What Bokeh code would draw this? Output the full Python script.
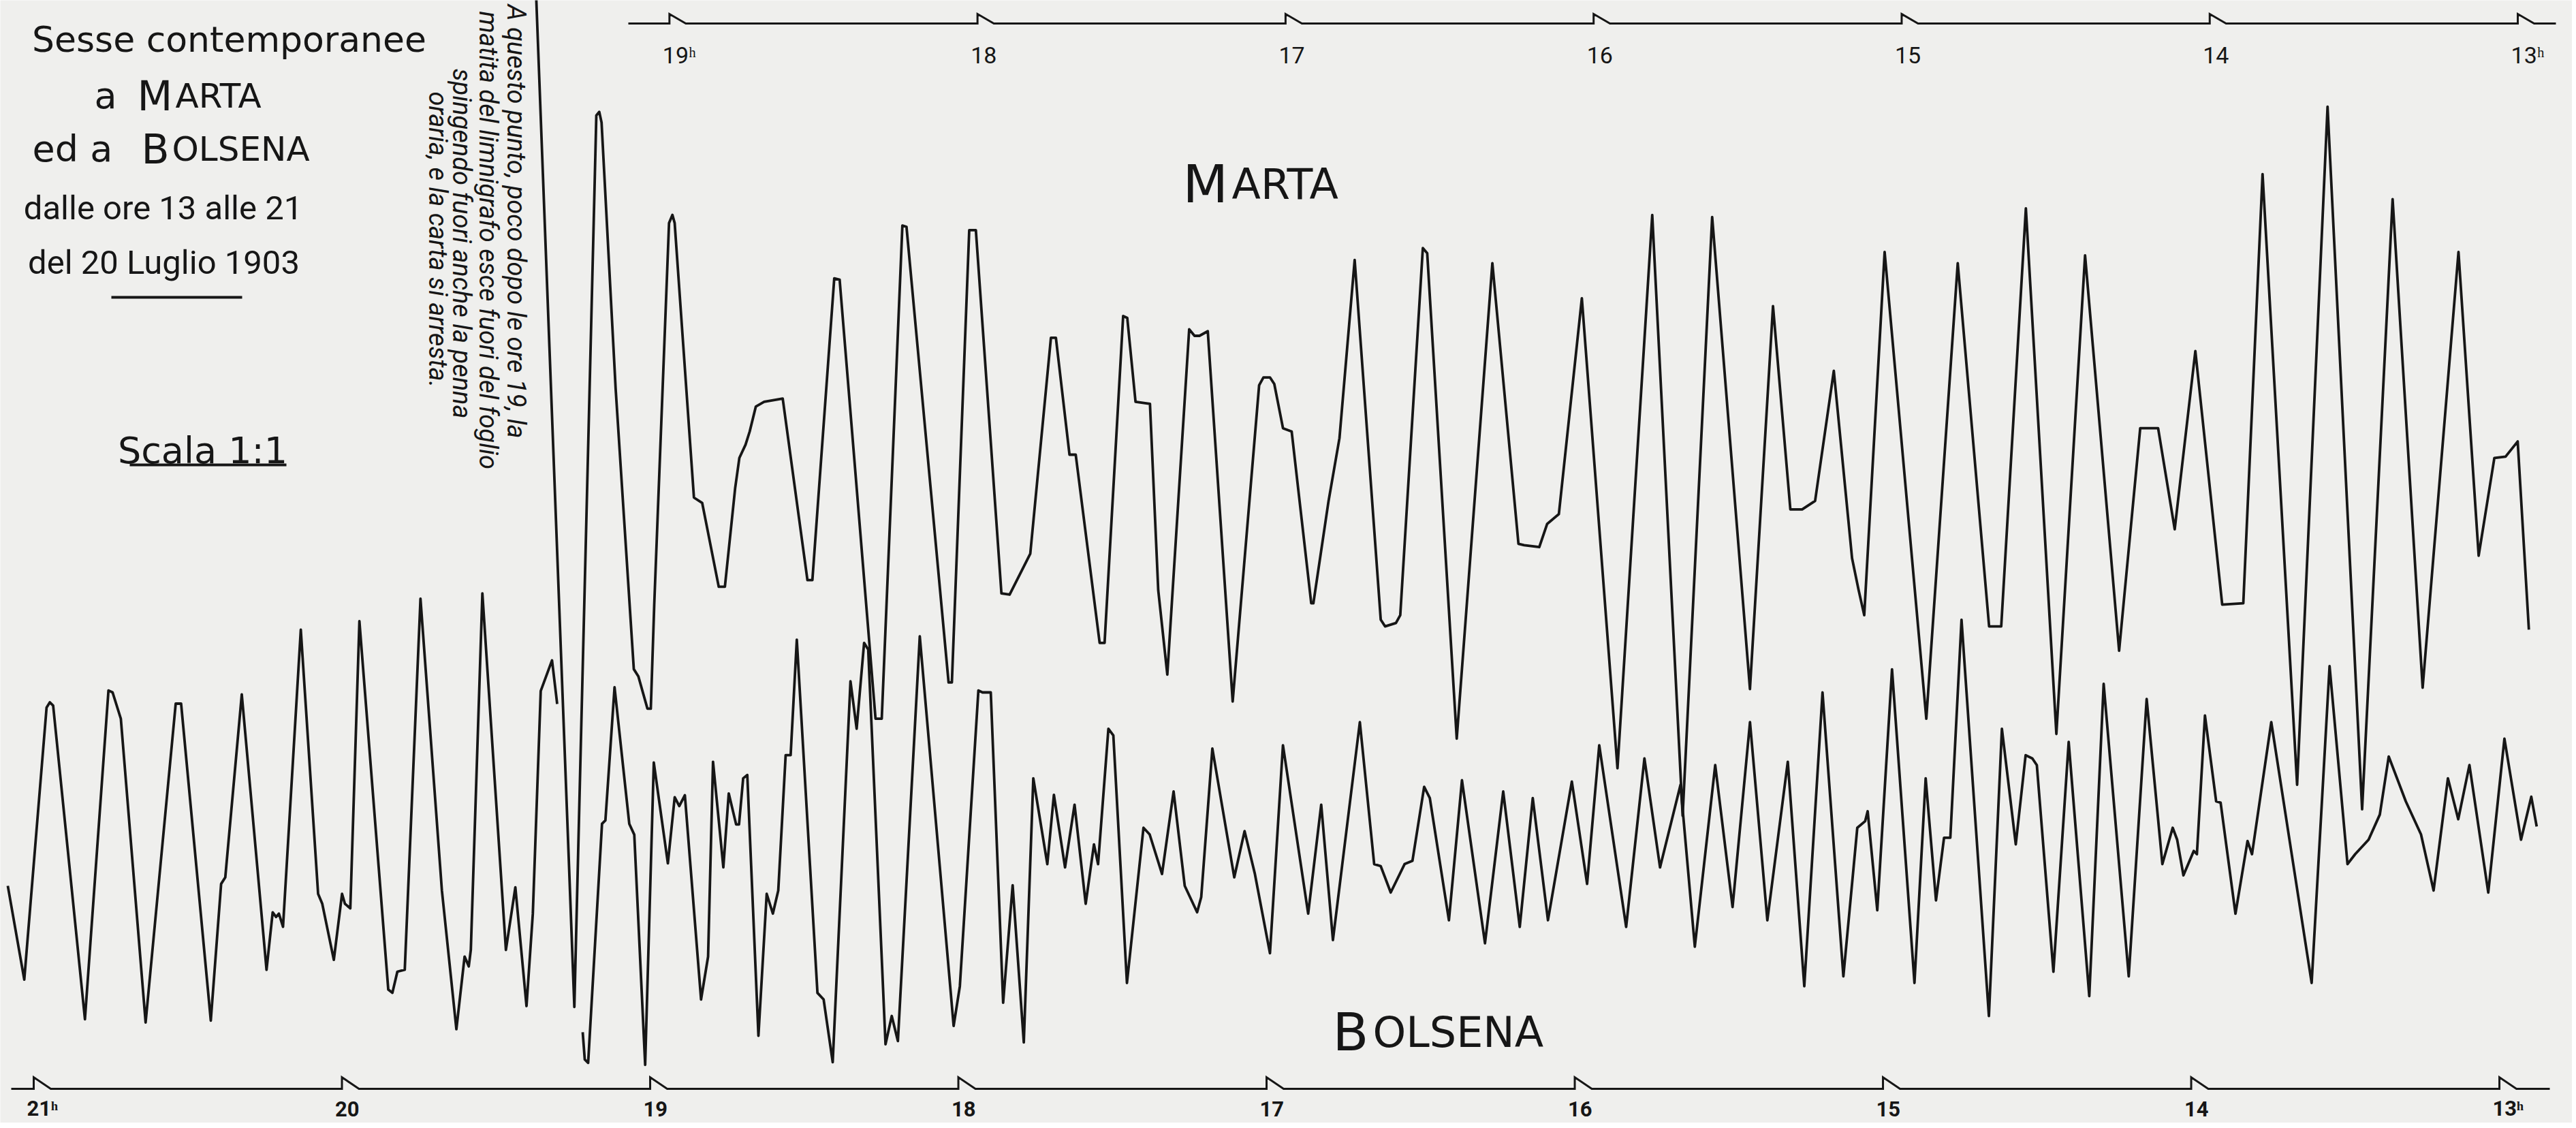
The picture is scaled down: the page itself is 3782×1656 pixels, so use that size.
import math
from bokeh.plotting import figure
from bokeh.models import Range1d
from bokeh.embed import file_html
from bokeh.resources import INLINE
from bokeh.core.properties import value

NAN = float("nan")

# ---------------------------------------------------------------------------
# DATA  (time = minutes after 13h on 20 July 1903, level = mm, scale 1:1)
# values read left to right on the sheet, i.e. from the latest to the earliest
# ---------------------------------------------------------------------------
marta_min = [
    385.95, 378.52, 374.24, 373.67, 373.22, 370.48, 366.94, 366.05, 364.29, 363.63,
    362.96, 360.08, 359.42, 358.98, 355.23, 353.62, 350.4, 349.2, 347.19, 346.38,
    345.18, 344.37, 343.17, 341.56, 337.94, 333.12, 332.16, 327.9, 326.85, 319.86,
    318.65, 314.63, 313.83, 305.63, 304.99, 301.61, 300.32, 295.34, 293.74, 289.72,
    285.7, 284.73, 282.08, 280.87, 276.21, 275.25, 271.63, 270.83, 269.22, 266.41,
    264.8, 263.03, 258.77, 257.73, 256.76, 255.15, 250.3, 245.15, 244.31, 243.04,
    242.19, 240.5, 238.81, 235.0, 234.58, 231.62, 229.5, 226.54, 221.46, 220.62,
    218.5, 217.66, 213.26, 212.41, 206.66, 199.72, 194.64, 193.54, 190.58, 189.06,
    186.77, 182.29, 175.35, 168.58, 162.66, 156.91, 149.55, 145.06, 141.68, 139.39,
    136.86, 133.22, 129.66, 128.39, 127.29, 123.32, 115.2, 109.08, 102.97, 100.61,
    95.81, 89.87, 84.28, 77.65, 73.54, 70.05, 66.82, 62.8, 57.57, 53.46,
    49.71, 42.98, 37.05, 30.32, 24.38, 18.53, 11.55, 7.62, 4.56, 2.38,
    0.02, -2.16,
]
marta_level = [
    63.0, -90.69, 44.98, 45.53, 43.9, 3.42, -39.28, -40.38, -45.29, -45.29,
    -29.44, 28.6, 29.85, 28.6, -13.17, -13.98, -26.74, -26.74, -11.66, -7.14,
    -5.13, -3.12, 0.69, 1.4, 1.9, -25.73, -25.73, 20.19, 19.99, -46.83,
    -46.83, 28.23, 28.03, -41.31, -41.31, 27.52, 27.52, -27.74, -27.94, -21.71,
    11.14, 11.14, -6.64, -6.64, -35.28, -35.28, 14.46, 14.16, 1.4, 1.1,
    -27.24, -40.1, 12.45, 11.45, 11.45, 12.15, -44.2, 3.91, 5.12, 5.12,
    4.11, -2.62, -3.12, -29.25, -29.25, -13.67, -4.13, 23.0, -31.76, -32.77,
    -32.26, -31.06, 24.81, 24.01, -49.85, 22.5, -20.2, -20.41, -20.71, -17.19,
    -15.68, 17.17, -54.37, 29.83, -61.6, 29.53, -42.31, 15.97, -14.98, -14.98,
    -13.67, 6.12, -22.42, -27.24, -31.06, 24.21, -46.83, 22.5, -32.77, -32.77,
    30.84, -49.14, 23.7, -36.48, -2.62, -2.62, -17.99, 9.13, -29.45, -29.25,
    36.06, -56.88, 46.31, -60.6, 32.24, -42.11, 24.21, -22.01, -7.14, -6.94,
    -4.63, -33.27,
]

# the Bolsena record is interrupted shortly after 19h (NaN = gap in the trace)
bolsena_min = [
    485.05, 481.84, 477.5, 476.86, 476.22, 470.03, 465.45, 464.65, 463.04, 458.22,
    452.36, 451.31, 445.53, 443.52, 442.71, 439.5, 434.68, 433.48, 432.83, 432.27,
    431.47, 428.01, 424.64, 423.83, 421.58, 419.98, 419.42, 418.37, 416.6, 410.98,
    410.18, 409.21, 407.77, 404.71, 400.54, 397.72, 396.12, 395.31, 394.91, 392.66,
    388.08, 386.24, 384.07, 382.84, 381.3, 379.1, 378.1, NAN,
    373.13, 372.73, 372.07, 369.37, 368.71, 366.93, 364.06, 363.09, 360.97, 359.29,
    356.55, 355.22, 354.33, 353.24, 350.09, 348.72, 347.76, 345.75, 344.7, 343.26,
    342.7, 341.89, 341.09, 338.92, 337.31, 336.11, 335.06, 333.62, 332.65, 331.45,
    327.43, 326.23, 324.46, 321.0, 319.8, 318.35, 317.55, 314.18, 312.97, 311.77,
    307.51, 300.92, 299.71, 296.1, 295.3, 293.69, 291.28, 289.43, 287.26, 285.41,
    282.68, 281.4, 279.23, 277.38, 275.21, 273.6, 272.8, 270.79, 269.83, 267.18,
    263.96, 262.76, 260.35, 258.1, 255.93, 253.52, 252.72, 250.55, 246.29, 244.28,
    242.27, 239.34, 236.81, 231.9, 229.36, 227.08, 221.84, 219.05, 217.78, 215.83,
    213.13, 211.6, 209.32, 208.22, 204.5, 201.96, 197.48, 193.93, 190.71, 188.18,
    185.22, 180.57, 177.6, 175.24, 170.0, 166.44, 163.4, 159.42, 156.63, 152.66,
    149.28, 145.89, 142.51, 138.53, 135.32, 131.77, 127.71, 125.0, 123.48, 122.98,
    121.11, 118.24, 113.87, 111.69, 109.68, 108.11, 106.89, 104.71, 99.38, 96.85,
    94.15, 92.23, 90.92, 90.05, 86.82, 83.85, 79.84, 77.04, 72.16, 68.67,
    65.61, 63.6, 62.73, 61.51, 59.5, 58.89, 57.32, 55.14, 54.27, 51.38,
    49.03, 48.16, 44.41, 36.55, 33.06, 29.57, 28.08, 25.47, 23.28, 21.54,
    18.22, 15.26, 12.81, 10.02, 8.01, 5.83, 2.17, -0.98, -4.21, -6.21,
    -7.26,
]
bolsena_level = [
    -4.76, -19.03, 22.37, 23.17, 22.67, -25.06, 24.98, 24.68, 20.66, -25.56,
    22.97, 22.97, -25.26, -4.46, -3.46, 24.38, -17.53, -8.78, -9.49, -8.98,
    -10.99, 34.22, -5.97, -7.48, -16.02, -5.97, -7.48, -8.18, 35.53, -20.54,
    -21.04, -17.82, -17.52, 38.94, -5.47, -26.57, -15.52, -17.02, -14.51, 39.75,
    -14.51, -4.97, -23.05, -9.0, 24.9, 29.56, 22.93, NAN,
    -27.03, -31.17, -31.69, 4.68, 5.2, 25.47, 4.68, 3.03, -32.0, 14.01,
    -1.33, 8.73, 7.38, 9.04, -22.05, -15.52, 14.13, -1.95, 9.31, 4.58,
    4.58, 11.61, 12.12, -27.57, -5.97, -8.98, -5.47, 15.13, 15.13, 32.71,
    -21.04, -22.05, -31.59, 26.38, 19.15, 32.21, 31.21, -28.88, -24.56, -28.38,
    33.22, -26.07, -20.04, 24.98, 24.68, 24.68, -22.55, -4.66, -28.58, 11.61,
    -1.45, 9.1, -1.95, 7.6, -7.48, 1.56, -1.45, 19.15, 18.15, -19.54,
    4.08, 3.07, -2.95, 9.61, -4.76, -8.78, -6.47, 16.13, -3.46, 3.57,
    -2.95, -15.01, 16.64, -8.98, 7.6, -13.0, 20.16, -1.45, -1.75, -5.77,
    -1.45, -0.95, 10.31, 8.6, -9.99, 11.31, -13.5, 9.6, -11.0, 8.6,
    -9.99, 11.11, -4.46, 16.64, -11.0, 14.63, -1.95, 10.61, -14.01, 13.62,
    -7.98, 20.16, -9.99, 14.13, -20.04, 24.68, -18.53, 4.08, 5.08, 6.59,
    -8.48, 28.19, -19.53, 11.61, -6.97, 2.57, 2.57, 35.73, -24.56, 19.15,
    1.56, 15.13, 14.63, 13.62, -17.83, 17.14, -21.54, 25.98, -18.53, 23.67,
    -1.45, 4.08, 2.27, -3.16, 0.56, 0.06, 21.16, 8.1, 7.9, -9.0,
    2.07, 0.06, 20.16, -19.53, 28.69, -1.45, 0.06, 2.27, 6.09, 14.93,
    8.1, 3.07, -5.47, 11.61, 5.38, 13.62, -5.77, 17.64, 2.27, 8.8,
    4.28,
]

# hour marks of the two time scales and their tick labels
marta_hours = [19, 18, 17, 16, 15, 14, 13]
marta_hour_labels = ["19ʰ", "18", "17", "16", "15", "14", "13ʰ"]
bolsena_hours = [21, 20, 19, 18, 17, 16, 15, 14, 13]
bolsena_hour_labels = ["21ʰ", "20", "19", "18", "17", "16", "15", "14", "13ʰ"]

# ---------------------------------------------------------------------------
# LAYOUT / STYLE
# ---------------------------------------------------------------------------
W, H = 3776, 1648           # canvas, placed at the page's top-left corner
PX_PER_MIN_B = 7.5417       # sheet speed (Bolsena scale)
PX_PER_MIN_M = 7.538        # sheet speed (Marta scale)
PX_PER_MM = 9.647           # vertical scale of the reproduction
XB = (486.5, 486.5 - W / PX_PER_MIN_B)
XM = (490.32, 490.32 - W / PX_PER_MIN_M)
YR = (130.0 - H / PX_PER_MM, 130.0)
MARTA_OFFSET = 67.5         # vertical placement of the Marta record (mm)
BG = "#efefed"
INK = "#161616"
TITLE_FONT = "DejaVu Sans"
NARROW = "Roboto"


def bx(px):   # page pixel -> Bolsena minutes
    return XB[0] - px / PX_PER_MIN_B


def mx(px):   # page pixel -> Marta minutes
    return XM[0] - px / PX_PER_MIN_M


def yy(py):   # page pixel -> mm
    return YR[1] - py / PX_PER_MM


p = figure(width=W, height=H, x_range=Range1d(*XB), y_range=Range1d(*YR),
           x_axis_type=None, y_axis_type=None, output_backend="svg",
           toolbar_location=None, min_border=0, background_fill_color=BG,
           border_fill_color=BG, outline_line_color=None)
p.extra_x_ranges = {"marta": Range1d(*XM)}
p.grid.visible = False

# --- time scales (baseline with the hour notches of the clock pen) ---------
def notch_path(hours, start, end, base, w, h):
    xs, ys = [start], [base]
    for hr in sorted(hours, reverse=True):
        m = (hr - 13) * 60
        xs += [m, m, m - w]
        ys += [base, base + h, base]
    xs.append(end)
    ys.append(base)
    return xs, ys


bxs, bys = notch_path(bolsena_hours, bx(16), bx(3743), yy(1598),
                      25 / PX_PER_MIN_B, 17 / PX_PER_MM)
p.line(bxs, bys, line_width=3, color=INK, line_join="miter")
mxs, mys = notch_path(marta_hours, mx(922), mx(3752), yy(34),
                      24 / PX_PER_MIN_M, 14 / PX_PER_MM)
p.line(mxs, mys, line_width=3, color=INK, line_join="miter", x_range_name="marta")

p.text(x=[(h - 13) * 60 for h in bolsena_hours], y=[yy(1627)] * len(bolsena_hours),
       text=bolsena_hour_labels, x_offset=-10, text_align="left",
       text_baseline="alphabetic", text_font=value(NARROW), text_font_size="31px",
       text_font_style="bold", text_color=INK)
p.text(x=[(h - 13) * 60 for h in marta_hours], y=[yy(80)] * len(marta_hours),
       text=marta_hour_labels, x_offset=-10, text_align="left",
       text_baseline="alphabetic", text_font=value(NARROW), text_font_size="34px",
       text_color=INK, x_range_name="marta")

# --- the two records --------------------------------------------------------
p.line(bolsena_min, bolsena_level, line_width=3.8, color=INK, line_join="round")
p.line(marta_min, [v + MARTA_OFFSET for v in marta_level], line_width=3.8,
       color=INK, line_join="round", x_range_name="marta")


def label(text, px, py, size, font=TITLE_FONT, align="left", style="normal",
          angle=0.0, baseline="alphabetic"):
    p.text(x=[bx(px)], y=[yy(py)], text=[text], text_font=value(font),
           text_font_size=f"{size}px", text_align=align,
           text_baseline=baseline, text_font_style=style,
           text_color=INK, angle=angle)


# --- title block -------------------------------------------------------------
label("Sesse contemporanee", 336, 57, 52, align="center")
label("a", 138, 140, 54)
label("M", 201, 140, 60)
label("ARTA", 257, 140, 50)
label("ed a", 47, 218, 54)
label("B", 207, 218, 60)
label("OLSENA", 252, 218, 50)
label("dalle ore 13 alle 21", 239, 305, 49, font=NARROW, align="center")
label("del 20 Luglio 1903", 240, 385, 49, font=NARROW, align="center")
label("Scala 1:1", 297, 661, 54, align="center")
p.segment(x0=[bx(163), bx(190)], y0=[yy(436), yy(682)],
          x1=[bx(355), bx(420)], y1=[yy(436), yy(682)], line_width=4, color=INK)

# --- names of the two stations -----------------------------------------------
label("M", 1736, 270, 77)
label("ARTA", 1808, 270, 62)
label("B", 1956, 1515, 77)
label("OLSENA", 2015, 1515, 62)

# --- note on the interruption of the Marta record ----------------------------
note = [
    ("A questo punto, poco dopo le ore 19, la", 757, 6),
    ("matita del limnigrafo esce fuori del foglio", 716, 16),
    ("spingendo fuori anche la penna", 677, 100),
    ("oraria, e la carta si arresta.", 642, 134),
]
for txt, px, py in note:
    label(txt, px, py, 38, font=NARROW, style="italic", angle=-math.pi / 2,
          baseline="middle")

open("out.html", "w").write(file_html(p, INLINE))
